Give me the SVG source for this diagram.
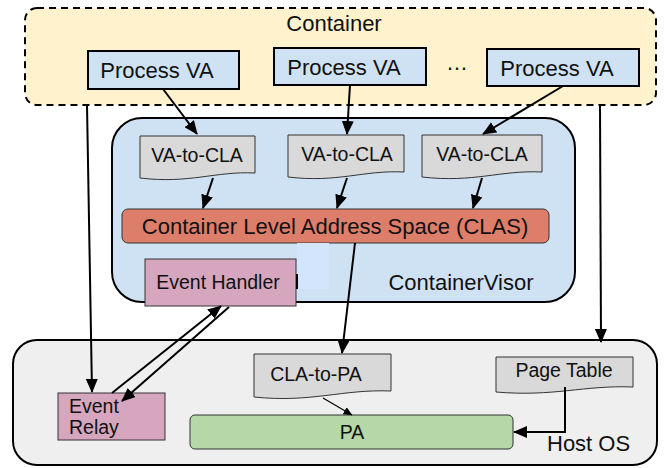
<svg xmlns="http://www.w3.org/2000/svg" width="665" height="468" viewBox="0 0 665 468">
  <style>
    text { font-family: "Liberation Sans", Arial, sans-serif; fill: #111; }
    .big { font-size: 22px; }
    .mid { font-size: 19.5px; }
    .c { text-anchor: middle; }
    .proc { fill: #cfe2f3; stroke: #000; stroke-width: 2; }
    .doc { fill: #d9d9d9; stroke: #333; stroke-width: 1; }
    .pink { fill: #d5a6bd; stroke: #333; stroke-width: 1; }
    .edge { fill: none; stroke: #000; stroke-width: 2; }
    .thin { fill: none; stroke: #000; stroke-width: 1.2; }
  </style>
  <defs>
    <marker id="arr" markerUnits="userSpaceOnUse" markerWidth="14" markerHeight="12" viewBox="0 0 14 12" refX="13" refY="6" orient="auto">
      <path d="M0,0 L14,6 L0,12 Z" fill="#000"/>
    </marker>
    <marker id="arrSmall" markerUnits="userSpaceOnUse" markerWidth="9" markerHeight="8" viewBox="0 0 9 8" refX="8.5" refY="4" orient="auto">
      <path d="M0,0 L9,4 L0,8 Z" fill="#000"/>
    </marker>
  </defs>

  <!-- container -->
  <g id="container">
    <rect x="25" y="8" width="631" height="97" rx="12" fill="#fff2cc" stroke="#000" stroke-width="2" stroke-dasharray="7,5"/>
    <text class="big c" x="334" y="31">Container</text>
  </g>
  <g id="proc1">
    <rect class="proc" x="88" y="51" width="151" height="38"/>
    <text class="big c" x="157" y="78">Process VA</text>
  </g>
  <g id="proc2">
    <rect class="proc" x="274" y="48" width="152" height="37"/>
    <text class="big c" x="344" y="75">Process VA</text>
  </g>
  <text class="big c" x="457" y="70">…</text>
  <g id="proc3">
    <rect class="proc" x="487" y="49" width="152" height="37"/>
    <text class="big c" x="557" y="76">Process VA</text>
  </g>

  <!-- container visor -->
  <g id="visor">
    <rect x="112" y="118" width="463" height="184" rx="30" fill="#cfe2f3" stroke="#000" stroke-width="2"/>
    <text class="big c" x="461" y="290">ContainerVisor</text>
  </g>
  <g id="va2cla1">
    <path class="doc" d="M140,136 H255 V173 C215,171 190,184 140,178 Z"/>
    <text class="mid c" x="197" y="162">VA-to-CLA</text>
  </g>
  <g id="va2cla2">
    <path class="doc" d="M288,135 H404 V172 C363,170 338,183 288,177 Z"/>
    <text class="mid c" x="347" y="161">VA-to-CLA</text>
  </g>
  <g id="va2cla3">
    <path class="doc" d="M422,135 H542 V172 C500,170 474,183 422,177 Z"/>
    <text class="mid c" x="482" y="161">VA-to-CLA</text>
  </g>
  <g id="clas">
    <rect x="122" y="209" width="427" height="34" rx="6" fill="#dd7e6b" stroke="#333" stroke-width="1"/>
    <text class="big c" x="335" y="234">Container Level Address Space (CLAS)</text>
  </g>
  <g id="handler">
    <rect class="pink" x="145" y="259" width="151" height="47"/>
    <text class="mid c" x="218" y="289">Event Handler</text>
  </g>
  <g id="patch">
    <rect x="297" y="243" width="32" height="46" fill="#d2e5fc"/>
    <line x1="297" y1="274" x2="297" y2="289" stroke="#000" stroke-width="2"/>
  </g>

  <!-- host os -->
  <g id="host">
    <rect x="13" y="340" width="644" height="125" rx="24" fill="#efefef" stroke="#000" stroke-width="2"/>
    <text class="big" x="547" y="451">Host OS</text>
  </g>
  <g id="cla2pa">
    <path class="doc" d="M254,354 H391 V391 C342,389 312,403 254,397 Z" fill="#cccccc"/>
    <text class="mid c" x="316" y="381">CLA-to-PA</text>
  </g>
  <g id="pagetable">
    <path class="doc" d="M496,357 H633 V387 C584,385 554,397 496,392 Z"/>
    <text class="mid c" x="564" y="377">Page Table</text>
  </g>
  <g id="relay">
    <rect class="pink" x="58" y="393" width="107" height="47"/>
    <text class="mid" x="69" y="413">Event</text>
    <text class="mid" x="69" y="434">Relay</text>
  </g>
  <g id="pa">
    <rect x="190" y="415" width="323" height="34" rx="5" fill="#b6d7a8" stroke="#333" stroke-width="1"/>
    <text class="mid c" x="352" y="439">PA</text>
  </g>

  <!-- connectors -->
  <g id="edges">
    <line class="edge" x1="163" y1="89" x2="197" y2="134" marker-end="url(#arr)"/>
    <line class="edge" x1="350" y1="85" x2="347" y2="134" marker-end="url(#arr)"/>
    <line class="edge" x1="563" y1="86" x2="483" y2="134" marker-end="url(#arr)"/>
    <line class="edge" x1="213" y1="178" x2="203" y2="208" marker-end="url(#arr)"/>
    <line class="edge" x1="347" y1="178" x2="337" y2="208" marker-end="url(#arr)"/>
    <line class="edge" x1="482" y1="178" x2="473" y2="208" marker-end="url(#arr)"/>
    <line class="edge" x1="355" y1="243" x2="342" y2="353" marker-end="url(#arr)"/>
    <line class="edge" x1="87" y1="105" x2="92" y2="392" marker-end="url(#arr)"/>
    <line class="edge" x1="600" y1="105" x2="601" y2="342" marker-end="url(#arr)"/>
    <line class="edge" x1="112" y1="393" x2="221" y2="306" marker-end="url(#arr)"/>
    <line class="edge" x1="229" y1="307" x2="122" y2="401" marker-end="url(#arr)"/>
    <line class="thin" x1="323" y1="398" x2="352" y2="415" marker-end="url(#arrSmall)"/>
    <polyline class="edge" points="565,387 565,432 514,432" marker-end="url(#arr)"/>
  </g>
</svg>
